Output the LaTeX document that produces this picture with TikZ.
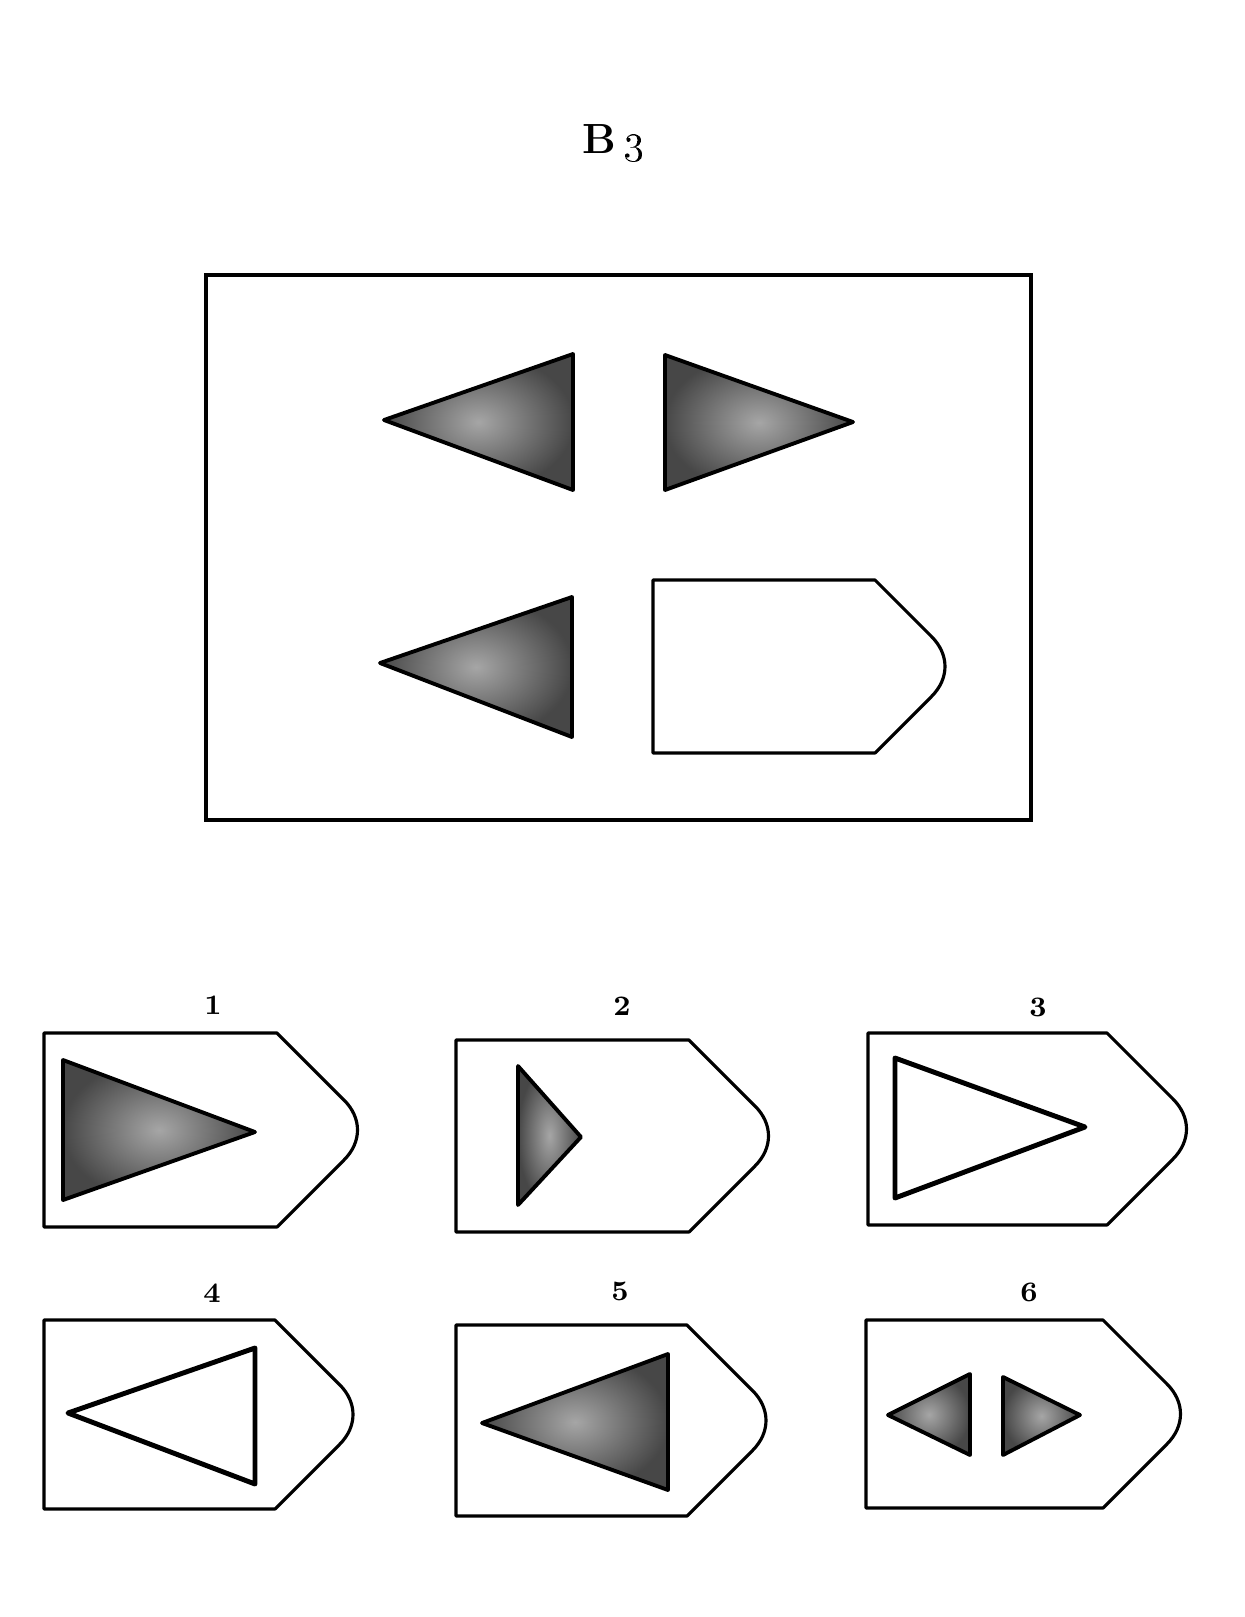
\documentclass[tikz,border=0pt]{standalone}
\usepackage{tikz}
\usetikzlibrary{calc}

\begin{document}
\begin{tikzpicture}[x=0.01cm, y=-0.01cm,
  frame/.style={draw, line width=0.9pt},
  card/.style={draw, line width=0.9pt, line join=round},
  solidtri/.style={draw, line width=1.1pt, line join=round,
    inner color=black!35, outer color=black!72},
  opentri/.style={draw, line width=1.4pt, line join=round},
  numlabel/.style={font=\bfseries\fontsize{8}{9}\selectfont, inner sep=1pt}]
\useasboundingbox (0,0) rectangle (1245,1617);
% title
\node[font=\fontsize{12}{14}\selectfont, inner sep=1pt] (title) at (613,143)
  {\textbf{B}\,\oldstylenums{3}};
% matrix frame
\draw[frame] (206,275) rectangle (1031,820);
\draw[solidtri] (384,420) -- (573,354) -- (573,490) -- cycle;
\draw[solidtri] (665,355) -- (853,422) -- (665,490) -- cycle;
\draw[solidtri] (380,663) -- (572,597) -- (572,737) -- cycle;
% empty card and the six answer cards
\foreach \l/\t/\c/\b in {653/580/875/753, 44/1033/277/1227,
    456/1040/689/1232, 868/1033/1107/1225, 44/1320/275/1509,
    456/1325/687/1516, 866/1320/1103/1508}{
  \pgfmathsetmacro{\m}{(\t+\b)/2}
  \pgfmathsetmacro{\x}{\c+(\b-\t)/2}
  \draw[card] (\l,\t) -- (\c,\t) -- ({\x-30},{\m-30})
    .. controls ({\x-12},{\m-12}) and ({\x-12},{\m+12}) .. ({\x-30},{\m+30})
    -- (\c,\b) -- (\l,\b) -- cycle;
}
\foreach \n/\x/\y in {1/213/1005, 2/622/1006, 3/1038/1007,
    4/212/1293, 5/620/1291, 6/1029/1292}
  \node[numlabel] (lab\n) at (\x,\y) {\n};
% contents of the answers
\draw[solidtri] (63,1060) -- (255,1132) -- (63,1200) -- cycle;
\draw[solidtri] (518,1066) -- (581,1137) -- (518,1205) -- cycle;
\draw[opentri] (895,1058) -- (1085,1127) -- (895,1198) -- cycle;
\draw[opentri] (68,1413) -- (255,1348) -- (255,1484) -- cycle;
\draw[solidtri] (482,1423) -- (668,1354) -- (668,1490) -- cycle;
\draw[solidtri] (888,1415) -- (970,1374) -- (970,1455) -- cycle;
\draw[solidtri] (1003,1377) -- (1080,1415) -- (1003,1455) -- cycle;
\end{tikzpicture}
\end{document}
